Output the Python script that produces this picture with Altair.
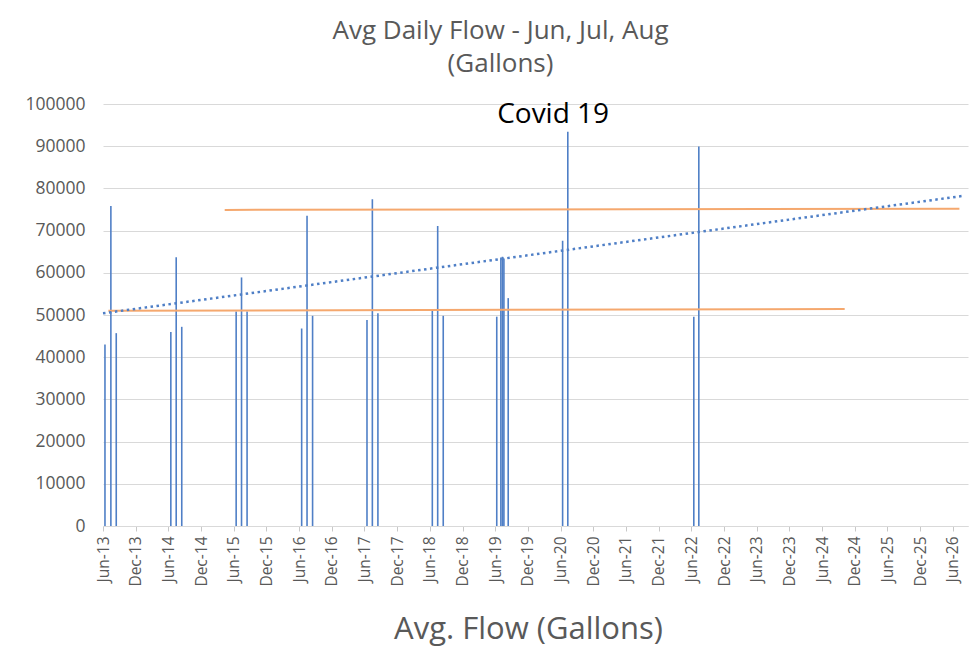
import altair as alt
import pandas as pd

# ---- data ----
flow_dates = [
    "2013-06-12", "2013-07-15", "2013-08-14",
    "2014-06-15", "2014-07-15", "2014-08-15",
    "2015-06-15", "2015-07-15", "2015-08-15",
    "2016-06-15", "2016-07-15", "2016-08-15",
    "2017-06-15", "2017-07-15", "2017-08-15",
    "2018-06-15", "2018-07-15", "2018-08-15",
    "2019-06-10", "2019-07-03", "2019-07-12", "2019-07-20", "2019-08-13",
    "2020-06-12", "2020-07-11",
    "2022-06-15", "2022-07-13",
]
flow_values = [
    43000, 75800, 45700,
    46000, 63700, 47200,
    50800, 58900, 50800,
    46800, 73500, 49800,
    48800, 77400, 50400,
    51000, 71100, 49800,
    49600, 63600, 63800, 63400, 54000,
    67600, 93400,
    49600, 89900,
]

trend_dates = ["2013-06-01", "2026-07-24"]
trend_values = [50400, 78200]

band_names = ["low", "low", "high", "high"]
band_dates = ["2013-07-01", "2024-10-05", "2015-04-12", "2026-07-08"]
band_values = [51000, 51400, 74900, 75200]

note_text = ["Covid 19"]
note_dates = ["2020-04-20"]
note_values = [97300]

tick_months = [
    (2013, 6), (2013, 12), (2014, 6), (2014, 12), (2015, 6), (2015, 12),
    (2016, 6), (2016, 12), (2017, 6), (2017, 12), (2018, 6), (2018, 12),
    (2019, 6), (2019, 12), (2020, 6), (2020, 12), (2021, 6), (2021, 12),
    (2022, 6), (2022, 12), (2023, 6), (2023, 12), (2024, 6), (2024, 12),
    (2025, 6), (2025, 12), (2026, 6),
]
y_ticks = [0, 10000, 20000, 30000, 40000, 50000, 60000, 70000, 80000, 90000, 100000]

# ---- tables ----
def loc(d):
    return d + "T00:00:00"

flow_df = pd.DataFrame({"date": [loc(d) for d in flow_dates], "flow": flow_values})
trend_df = pd.DataFrame({"date": [loc(d) for d in trend_dates], "flow": trend_values})
band_df = pd.DataFrame({"band": band_names, "date": [loc(d) for d in band_dates], "flow": band_values})
note_df = pd.DataFrame({"label": note_text, "date": [loc(d) for d in note_dates], "flow": note_values})

tick_expr = "[" + ", ".join(f"datetime({y}, {m - 1}, 1)" for y, m in tick_months) + "]"

FONT = "Open Sans"
GRAY = "#595959"
BLUE = "#4F7FC6"
ORANGE = "#F5A86E"

x_scale = alt.Scale(domain=[alt.DateTime(year=2013, month=6, date=1),
                            alt.DateTime(year=2026, month=8, date=25)])
y_scale = alt.Scale(domain=[0, 100000], nice=False)

x_axis = alt.Axis(
    values=alt.ExprRef(expr=tick_expr), tickCount=40, format="%b-%y", labelAngle=-90,
    labelFontSize=15.5, labelColor=GRAY, labelFont=FONT, labelPadding=5, labelOverlap=False,
    labelFlush=False, grid=False, domainColor="#d9d9d9", tickColor="#c8c8c8",
    tickSize=5, title="Avg. Flow (Gallons)", titleFontSize=31, titleColor=GRAY,
    titleFont=FONT, titleFontWeight="normal", titleX=425, titleY=112,
    titleAlign="center", titleBaseline="alphabetic",
)
y_axis = alt.Axis(
    values=y_ticks, format="d", domain=False, ticks=False, gridColor="#d9d9d9",
    labelFontSize=17.5, labelColor=GRAY, labelFont=FONT, labelPadding=18, title=None,
)

bars = alt.Chart(flow_df).mark_rule(color=BLUE, strokeWidth=1.6).encode(
    x=alt.X("date:T", scale=x_scale, axis=x_axis),
    y=alt.Y("flow:Q", scale=y_scale, axis=y_axis),
    y2=alt.datum(0),
)

trend = alt.Chart(trend_df).mark_line(color=BLUE, strokeWidth=2.5, strokeDash=[2.5, 3.5]).encode(
    x="date:T", y="flow:Q"
)

bands = alt.Chart(band_df).mark_line(color=ORANGE, strokeWidth=2).encode(
    x="date:T", y="flow:Q", detail="band:N"
)

note = alt.Chart(note_df).mark_text(font=FONT, fontSize=28, color="#000000",
                                    align="center", baseline="middle").encode(
    x="date:T", y="flow:Q", text="label:N"
)

chart = alt.layer(bars, bands, trend, note).properties(
    width=865, height=422,
    autosize=alt.AutoSizeParams(type="none"),
    padding={"left": 95, "top": 96, "right": 3, "bottom": 122},
    title=alt.TitleParams(
        text=["Avg Daily Flow - Jun, Jul, Aug", "(Gallons)"],
        fontSize=26, color=GRAY, font=FONT, fontWeight="normal",
        anchor="middle", dx=-35, offset=18, lineHeight=33,
    ),
).configure_view(stroke=None)

chart.save("out.html", embed_options={"renderer": "svg", "actions": False})
